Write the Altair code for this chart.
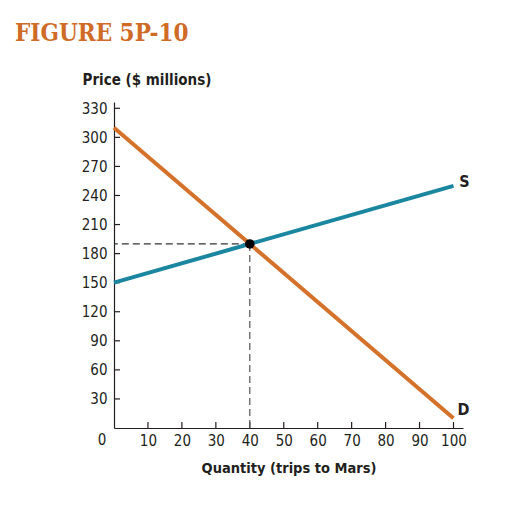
import altair as alt
import pandas as pd

# data
quantity = [0, 100]
supply_price = [150, 250]
demand_price = [310, 10]
eq_q = [40]
eq_p = [190]
x_ticks = [10, 20, 30, 40, 50, 60, 70, 80, 90, 100]
y_ticks = [30, 60, 90, 120, 150, 180, 210, 240, 270, 300, 330]
curve_labels = ["S", "D"]
label_q = [100, 100]
label_p = [250, 10]

W, H = 349, 326
XMAX, YMAX = 102.8, 336.5
FONT = "Liberation Sans Narrow, DejaVu Sans Condensed, Roboto Condensed, Arial Narrow, sans-serif"
ORANGE = "#D4712A"
TEAL = "#1A86A0"
INK = "#231F20"

xs = alt.Scale(domain=[0, XMAX], nice=False, zero=True)
ys = alt.Scale(domain=[0, YMAX], nice=False, zero=True)

supply = pd.DataFrame({"q": quantity, "p": supply_price})
demand = pd.DataFrame({"q": quantity, "p": demand_price})
eq = pd.DataFrame({"q": eq_q, "p": eq_p})
xt = pd.DataFrame({"q": x_ticks})
yt = pd.DataFrame({"p": y_ticks})
lab = pd.DataFrame({"q": label_q, "p": label_p, "t": curve_labels})
zero = pd.DataFrame({"q": [0], "t": ["0"]})

xaxis = alt.Axis(values=x_ticks, tickSize=0, labelPadding=5, labelFont=FONT, labelFontSize=15,
                 labelOverlap=False, labelColor=INK, domainColor=INK, domainWidth=1.2, grid=False,
                 title="Quantity (trips to Mars)", titleFont=FONT, titleFontSize=14.5,
                 titleFontWeight="bold", titleColor=INK, titleY=40, titleBaseline="middle")
yaxis = alt.Axis(values=y_ticks, tickSize=0, labelPadding=7, labelFont=FONT, labelFontSize=15,
                 labelOverlap=False, labelColor=INK, domainColor=INK, domainWidth=1.2, grid=False,
                 title="Price ($ millions)", titleFont=FONT, titleFontSize=15,
                 titleFontWeight="bold", titleColor=INK, titleAngle=0, titleAlign="left",
                 titleX=-32, titleY=-23, titleBaseline="middle")


def X(field="q:Q"):
    return alt.X(field, scale=xs, axis=xaxis)


def Y(field="p:Q"):
    return alt.Y(field, scale=ys, axis=yaxis)


xtick_marks = alt.Chart(xt).mark_rule(color=INK, strokeWidth=1.2).encode(
    x=X(), y=alt.value(H), y2=alt.value(H - 6))
ytick_marks = alt.Chart(yt).mark_rule(color=INK, strokeWidth=1.2).encode(
    y=Y(), x=alt.value(0), x2=alt.value(6))

hdash = alt.Chart(eq).mark_rule(color="#333333", strokeDash=[7, 4], strokeWidth=1.2).encode(
    x=X(), x2=alt.value(0), y=Y())
vdash = alt.Chart(eq).mark_rule(color="#555555", strokeDash=[7, 4], strokeWidth=1.2).encode(
    x=X(), y=Y(), y2=alt.value(H))

sline = alt.Chart(supply).mark_line(color=TEAL, strokeWidth=4).encode(x=X(), y=Y())
dline = alt.Chart(demand).mark_line(color=ORANGE, strokeWidth=4).encode(x=X(), y=Y())

dot = alt.Chart(eq).mark_point(filled=True, color="#000000", size=90, opacity=1).encode(
    x=X(), y=Y())

s_lab = alt.Chart(lab.iloc[[0]]).mark_text(font=FONT, fontSize=16, fontWeight="bold",
                                           color=INK, dx=11, dy=-4).encode(
    x=X(), y=Y(), text="t:N")
d_lab = alt.Chart(lab.iloc[[1]]).mark_text(font=FONT, fontSize=16, fontWeight="bold",
                                           color=INK, dx=10, dy=-8).encode(
    x=X(), y=Y(), text="t:N")

zero_lab = alt.Chart(zero).mark_text(font=FONT, fontSize=15, color=INK, dx=-12,
                                     baseline="middle").encode(
    x=X(), y=alt.value(H + 12), text="t:N")

chart = alt.layer(
    xtick_marks, ytick_marks, hdash, vdash, dline, sline, dot, s_lab, d_lab, zero_lab
).properties(
    width=W, height=H,
    autosize=alt.AutoSizeParams(type="none"),
    padding={"left": 106, "top": 94, "right": 60, "bottom": 70},
    title=alt.TitleParams("FIGURE 5P-10", font="DejaVu Serif Condensed, DejaVu Serif",
                          fontSize=24, fontWeight="bold",
                          color="#CF6A27", anchor="start", frame="group", dx=-99, offset=26),
).configure_view(stroke=None).configure_axis(labelOverlap=False)

chart.save("out.html", embed_options={"renderer": "svg", "actions": False})
